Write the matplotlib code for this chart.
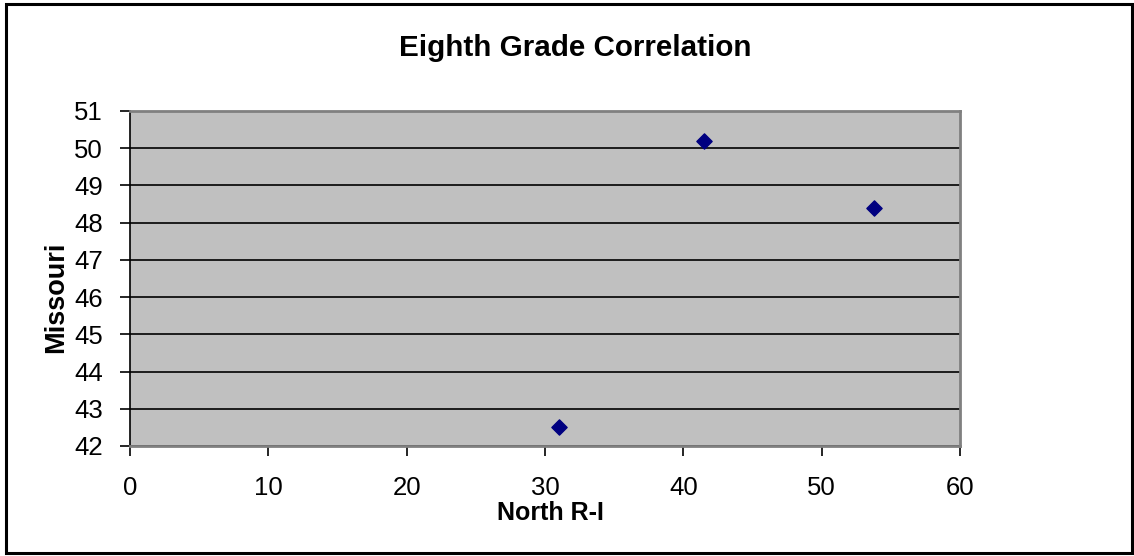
import matplotlib
matplotlib.use("Agg")
import matplotlib.pyplot as plt
from matplotlib.patches import Rectangle

north_ri = [41.5, 53.8, 31.0]
missouri = [50.2, 48.4, 42.5]
x_ticks = [0, 10, 20, 30, 40, 50, 60]
y_ticks = [42, 43, 44, 45, 46, 47, 48, 49, 50, 51]

plt.rcParams['font.family'] = ['Liberation Sans', 'DejaVu Sans']

W, H = 1134, 556
fig = plt.figure(figsize=(W / 100, H / 100), dpi=100)
fig.patch.set_facecolor('white')

# outer frame
fig.add_artist(Rectangle((6 / W, 3 / H), (1132 - 6) / W, (552 - 3) / H,
                         transform=fig.transFigure, fill=False,
                         edgecolor='black', linewidth=2.2))

left, right, top, bottom = 130, 960, 111, 446
ax = fig.add_axes([left / W, 1 - bottom / H, (right - left) / W, (bottom - top) / H])
ax.set_facecolor('#c0c0c0')
ax.set_xlim(0, 60)
ax.set_ylim(42, 51)
ax.set_xticks(x_ticks)
ax.set_yticks(y_ticks)
ax.yaxis.grid(True, color='black', linewidth=1.2)
ax.set_axisbelow(True)
for s in ['top', 'right', 'bottom']:
    ax.spines[s].set_color('#808080')
    ax.spines[s].set_linewidth(2)
ax.spines['left'].set_color('black')
ax.spines['left'].set_linewidth(1.2)

ax.tick_params(axis='both', direction='out', length=7, width=1.2, color='black',
               labelsize=18.5)
ax.tick_params(axis='x', pad=14.5)
ax.tick_params(axis='y', pad=12.5)

ax.scatter(north_ri, missouri, marker='D', s=60, color='#000080', zorder=5)

ax.set_xlabel('North R-I', fontsize=18, fontweight='bold', va='center')
ax.xaxis.set_label_coords((550 - left) / (right - left), (bottom - 513) / (bottom - top))
ax.set_ylabel('Missouri', fontsize=19.5, fontweight='bold', va='center', ha='center')
ax.yaxis.set_label_coords((56 - left) / (right - left), (bottom - 297) / (bottom - top))
fig.text(575 / W, 1 - 48 / H, 'Eighth Grade Correlation', fontsize=21.3,
         fontweight='bold', ha='center', va='center')

fig.savefig('out.png', dpi=100)
